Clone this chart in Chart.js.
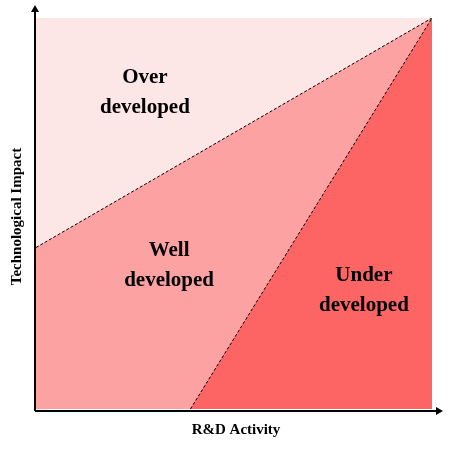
<!DOCTYPE html>
<html><head><meta charset="utf-8">
<script src="https://cdn.jsdelivr.net/npm/chart.js@4"></script>
<style>html,body{margin:0;padding:0;background:#fff}#w{width:449px;height:449px}</style>
</head><body><div id="w"><canvas id="c"></canvas></div>
<script>
const topEdge = [{x:0,y:1},{x:1,y:1}];
const wellBoundary = [{x:0,y:0.413},{x:1,y:1}];
const underBoundary = [{x:0.39,y:0},{x:1,y:1}];
const regionLabels = ["Over|developed","Well|developed","Under|developed"];
const xTitle = "R&D Activity";
const yTitle = "Technological Impact";

const deco = {
  id:'deco',
  afterDatasetsDraw(chart){
    const {ctx, chartArea:a} = chart;
    const W=a.right-a.left, H=a.bottom-a.top;
    ctx.save();
    ctx.fillStyle='#000';
    ctx.font='bold 21px "Liberation Serif"';
    ctx.textAlign='center'; ctx.textBaseline='middle';
    const pos=[[0.275,0.192],[0.336,0.634],[0.828,0.696]];
    regionLabels.forEach((t,i)=>{
      const [l1,l2]=t.split('|');
      const x=a.left+pos[i][0]*W, y=a.top+pos[i][1]*H;
      ctx.fillText(l1,x,y-15); ctx.fillText(l2,x,y+15);
    });
    ctx.strokeStyle='#000'; ctx.lineWidth=2;
    ctx.beginPath(); ctx.moveTo(a.left-1,a.bottom+2); ctx.lineTo(a.left-1,a.top-10);
    ctx.moveTo(a.left-1,a.bottom+2); ctx.lineTo(a.right+8,a.bottom+2); ctx.stroke();
    ctx.beginPath(); ctx.moveTo(a.left-1,a.top-13); ctx.lineTo(a.left-5,a.top-6); ctx.lineTo(a.left+3,a.top-6); ctx.closePath(); ctx.fill();
    ctx.beginPath(); ctx.moveTo(a.right+11,a.bottom+2); ctx.lineTo(a.right+4,a.bottom-2); ctx.lineTo(a.right+4,a.bottom+6); ctx.closePath(); ctx.fill();
    ctx.font='bold 15px "Liberation Serif"';
    ctx.fillText(xTitle,(a.left+a.right)/2+2,a.bottom+21);
    ctx.translate(17,(a.top+a.bottom)/2+3); ctx.rotate(-Math.PI/2);
    ctx.fillText(yTitle,0,0);
    ctx.restore();
  }
};

new Chart(document.getElementById('c'),{
  type:'line',
  data:{datasets:[
    {data:topEdge,fill:'origin',backgroundColor:'#fde6e6',borderWidth:0,pointRadius:0,order:3},
    {data:wellBoundary,fill:'origin',backgroundColor:'#fca2a2',borderColor:'#000',borderWidth:1,borderDash:[3,2],pointRadius:0,order:2},
    {data:underBoundary,fill:'origin',backgroundColor:'#fd6565',borderColor:'#000',borderWidth:1,borderDash:[3,2],pointRadius:0,order:1}
  ]},
  plugins:[deco],
  options:{
    responsive:true,maintainAspectRatio:false,animation:false,
    layout:{padding:{left:36,right:17,top:18,bottom:40}},
    plugins:{legend:{display:false},tooltip:{enabled:false}},
    scales:{
      x:{type:'linear',min:0,max:1,display:false},
      y:{type:'linear',min:0,max:1,display:false}
    }
  }
});
</script></body></html>
